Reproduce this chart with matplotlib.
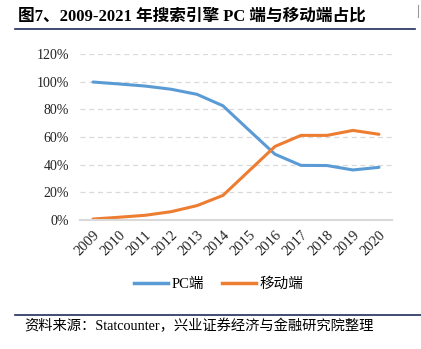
import matplotlib.pyplot as plt
from matplotlib.ticker import PercentFormatter
from matplotlib.lines import Line2D

years = ['2009', '2010', '2011', '2012', '2013', '2014',
         '2015', '2016', '2017', '2018', '2019', '2020']
pc = [99.8, 98.4, 96.9, 94.6, 90.9, 82.6, 65.0, 47.6, 39.5, 39.4, 36.2, 38.1]
mobile = [0.7, 2.0, 3.4, 6.0, 10.4, 17.8, 35.5, 53.2, 61.2, 61.2, 64.8, 62.0]
series_names = ['PC端', '移动端']
title = '图7、2009-2021 年搜索引擎 PC 端与移动端占比'
source = '资料来源：Statcounter，兴业证券经济与金融研究院整理'

plt.rcParams['font.family'] = ['Liberation Serif', 'Noto Sans CJK SC']

blue = '#5B9BD5'
orange = '#ED7D31'

fig = plt.figure(figsize=(4.21, 3.49), dpi=100)
ax = fig.add_axes([0.19, 0.3696, 0.741, 0.4754])

x = range(len(years))
ax.plot(x, pc, color=blue, lw=2.2, solid_capstyle='round')
ax.plot(x, mobile, color=orange, lw=2.2, solid_capstyle='round')

ax.set_xlim(-0.5, len(years) - 0.5)
ax.set_ylim(0, 120)
ax.set_yticks(range(0, 121, 20))
ax.yaxis.set_major_formatter(PercentFormatter(decimals=0))
ax.set_xticks(list(x))
ax.set_xticklabels(years, rotation=45, ha='right', rotation_mode='anchor')
ax.tick_params(length=0, labelsize=10, colors='#222222')
ax.tick_params(axis='x', pad=6, labelsize=10.5)
ax.tick_params(axis='y', pad=8)
ax.yaxis.grid(True, color='#d9d9d9', ls=(0, (4, 3)), lw=0.9)
ax.set_axisbelow(True)
for s in ['top', 'right', 'left']:
    ax.spines[s].set_visible(False)
ax.spines['bottom'].set_color('#d9d9d9')
ax.spines['bottom'].set_linewidth(1.5)

handles = [Line2D([], [], color=blue, lw=2.5), Line2D([], [], color=orange, lw=2.5)]
fig.legend(handles, series_names, loc='center', bbox_to_anchor=(0.52, 0.186),
           ncol=2, frameon=False, fontsize=10.5, handlelength=2.3,
           handletextpad=0.3, columnspacing=1.2)

# title and source
fig.text(0.043, 0.953, title, fontsize=12, fontweight='bold', va='center', ha='left')
fig.add_artist(Line2D([0.036, 0.986], [0.918, 0.918], color='#1F2D5A', lw=1.2))
fig.add_artist(Line2D([0.993, 0.993], [0.95, 0.985], color='#999999', lw=0.8))
fig.add_artist(Line2D([0.036, 1.0], [0.097, 0.097], color='#1F2D5A', lw=1.2))
fig.text(0.058, 0.066, source, fontsize=10.3, va='center', ha='left')

fig.savefig('out.png', dpi=100)
